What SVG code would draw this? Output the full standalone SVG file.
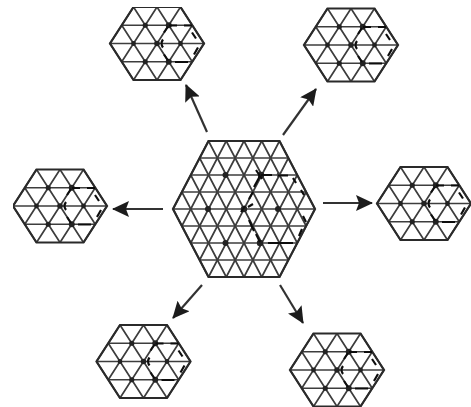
<svg xmlns="http://www.w3.org/2000/svg" width="471" height="407" viewBox="0 0 471 407">
<style>
.bg{fill:#fff}
.grid{fill:none;stroke:#3c3c3c;stroke-width:1.7}
.edge{fill:none;stroke:#2c2c2c;stroke-width:2.2}
.dot{fill:#222}
.soft{fill:#444}
.stub{fill:none;stroke:#111;stroke-width:2.2}
.conn{fill:none;stroke:#333;stroke-width:2.2;marker-end:url(#head)}
</style>
<defs>
<filter id="soft" x="0" y="0" width="1" height="1"><feGaussianBlur stdDeviation="0.45"/></filter>
<marker id="head" viewBox="0 0 17 16" refX="16" refY="8" markerWidth="17" markerHeight="16" markerUnits="userSpaceOnUse" orient="auto">
<path d="M0 0L17 8L0 16L3 8Z" fill="#1c1c1c"/>
</marker>
<g id="small">
<path class="grid" d="M-47 0H47M-35.25-18.25H35.25M-35.25 18.25H35.25M-23.5-36.5L23.5 36.5M0-36.5L35.25 18.25M23.5-36.5L47 0M-35.25-18.25L0 36.5M-47 0L-23.5 36.5M23.5-36.5L-23.5 36.5M0-36.5L-35.25 18.25M-23.5-36.5L-47 0M35.25-18.25L0 36.5M47 0L23.5 36.5"/>
<path class="edge" d="M-23.5-36.5H23.5L47 0L23.5 36.5H-23.5L-47 0Z"/>
<circle class="dot" cx="-11.75" cy="-18.25" r="2.6"/>
<circle class="dot" cx="11.75" cy="-18.25" r="3"/>
<circle class="dot" cx="-23.5" cy="0" r="2.4"/>
<circle class="dot" cx="0" cy="0" r="2.8"/>
<circle class="dot" cx="23.5" cy="0" r="2.4"/>
<circle class="dot" cx="-11.75" cy="18.25" r="2.6"/>
<circle class="dot" cx="11.75" cy="18.25" r="3"/>
<path class="stub" d="M12-18H20M27-18H35M35-11L39-5M41 4L37 11M18 18.500H31M11-17L7-11M6-4Q3 0 6 4M7 11L11 17"/>
</g>
</defs>
<rect class="bg" width="471" height="407"/>
<g filter="url(#soft)">
<g id="connectors">
<path class="conn" d="M207 132L186 85"/>
<path class="conn" d="M283 135L316 89"/>
<path class="conn" d="M163 209H113"/>
<path class="conn" d="M323 203H372"/>
<path class="conn" d="M202 285L173 318"/>
<path class="conn" d="M280 285L303 323"/>
</g>
<g id="center" transform="translate(244 209)">
<path class="grid" d="M-71 0H71M-62.125-17H62.125M-53.25-34H53.25M-44.375-51H44.375M-62.125 17H62.125M-53.25 34H53.25M-44.375 51H44.375"/>
<path class="grid" d="M-35.5-68L35.5 68M-17.75-68L44.375 51M0-68L53.25 34M17.75-68L62.125 17M35.5-68L71 0M-44.375-51L17.75 68M-53.25-34L0 68M-62.125-17L-17.75 68M-71 0L-35.5 68"/>
<path class="grid" d="M35.5-68L-35.5 68M17.75-68L-44.375 51M0-68L-53.25 34M-17.75-68L-62.125 17M-35.5-68L-71 0M44.375-51L-17.75 68M53.25-34L0 68M62.125-17L17.75 68M71 0L35.5 68"/>
<path class="edge" d="M-35.5-68H35.5L71 0L35.5 68H-35.5L-71 0Z"/>
<circle class="dot" cx="-18.5" cy="-34" r="3"/>
<circle class="dot" cx="17" cy="-34" r="3.2"/>
<circle class="soft" cx="35" cy="-34" r="2.4"/>
<circle class="dot" cx="-36" cy="0" r="3"/>
<circle class="dot" cx="0" cy="0" r="3.2"/>
<circle class="dot" cx="34" cy="0" r="3"/>
<circle class="dot" cx="-18.5" cy="34" r="3"/>
<circle class="dot" cx="16" cy="34" r="3.2"/>
<path class="stub" d="M17-34H28M34-33.500H44M49-31L52-26M57-19L60-14M59 7L62 13M58 20L55 27M24 34H49M16-33L10-22M9-17L5-10M4-2L9-5M-3 3L1-3M5 11L10 22M12 25L16 33M12-39L18-30"/>
</g>
<use id="top-left" href="#small" x="157" y="43.500"/>
<use id="top-right" href="#small" x="351" y="45"/>
<use id="left" href="#small" x="60" y="206"/>
<use id="right" href="#small" x="424" y="203.500"/>
<use id="bottom-left" href="#small" x="143.500" y="361.500"/>
<use id="bottom-right" href="#small" x="337" y="370"/>
</g>
</svg>
